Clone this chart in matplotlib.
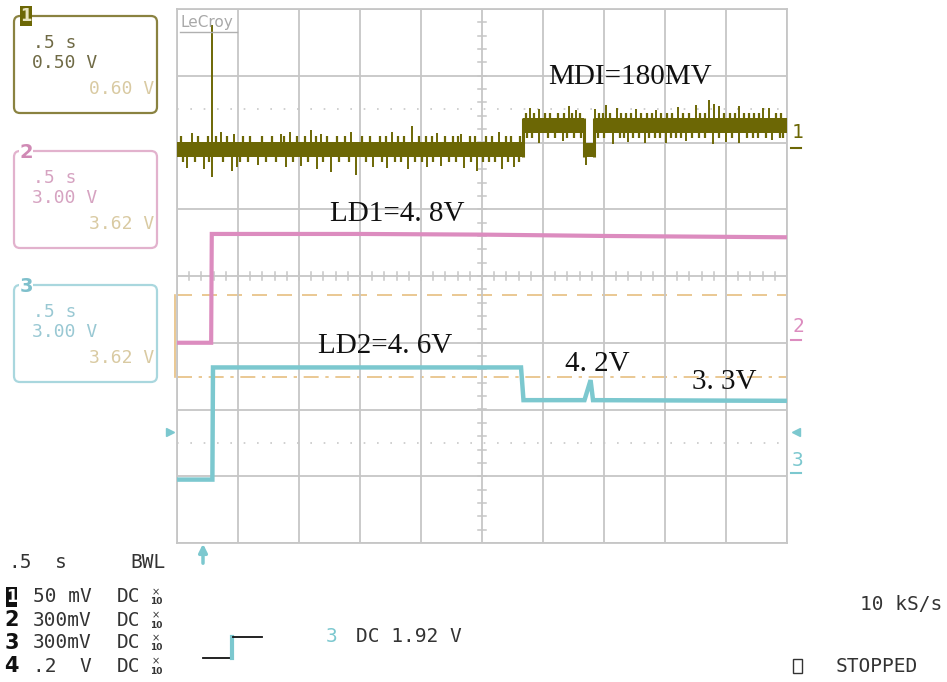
import numpy as np
import matplotlib
matplotlib.use("Agg")
import matplotlib.pyplot as plt
from matplotlib.patches import FancyBboxPatch, Rectangle

# ---------------- data (time in s, amplitude in screen divisions) -------------
x_range = (-2.5, 2.5)          # 0.5 s/div, 10 div
y_range = (-4, 4)              # 8 div

# Channel 1 (MDI, 50 mV/div): noisy band made of level segments
ch1_seg_start = [-2.5, 0.34, 0.84, 0.92]
ch1_seg_end = [0.34, 0.84, 0.92, 2.5]
ch1_level = [1.90, 2.25, 1.89, 2.25]
ch1_band = 0.11
# large noise spikes (time, tip)
ch1_spike_t = [-2.38, -2.14, -2.03, -1.65, -1.57, -1.40, -1.32, -1.07, -0.74, -0.57,
               -0.37, -0.17, 0.14,
               -2.42, -2.28, -2.05, -2.01, -1.84, -1.61, -1.48, -1.35, -1.24, -1.03,
               -0.89, -0.78, -0.61, -0.45, -0.34, -0.15, -0.04, 0.16, 0.26,
               0.39, 0.47, 0.71, 0.77, 0.93, 1.02, 1.11, 1.26, 1.43, 1.61, 1.75,
               1.86, 1.90, 1.94, 2.11, 2.30, 2.35,
               0.47, 0.66, 1.07, 1.20, 1.34, 1.51, 1.67, 1.89, 2.00, 2.11, 2.38,
               0.855, -2.215, -2.215]
ch1_spike_tip = [2.14, 2.16, 2.12, 2.13, 2.15, 2.18, 2.12, 2.16, 2.15, 2.24,
                 2.14, 2.13, 2.15,
                 1.62, 1.60, 1.58, 1.64, 1.66, 1.63, 1.65, 1.60, 1.56, 1.52,
                 1.63, 1.62, 1.61, 1.64, 1.65, 1.62, 1.58, 1.60, 1.63,
                 2.52, 2.50, 2.54, 2.49, 2.50, 2.56, 2.52, 2.50, 2.48, 2.53, 2.56,
                 2.63, 2.58, 2.55, 2.54, 2.51, 2.52,
                 2.00, 2.02, 1.98, 2.01, 1.99, 2.00, 2.02, 1.98, 2.01, 2.00, 2.03,
                 1.66, 3.76, 1.48]
# smaller noise spikes: times and typical excursion (div) above/below the level
ch1_minor_up_t = [-2.47, -2.33, -2.25, -2.18, -2.09, -1.96, -1.90, -1.80, -1.72, -1.62,
                  -1.52, -1.45, -1.36, -1.27, -1.19, -1.12, -0.98, -0.92, -0.84, -0.79,
                  -0.69, -0.64, -0.52, -0.46, -0.41, -0.30, -0.24, -0.20, -0.10, -0.06,
                  0.03, 0.08, 0.20, 0.24, 0.31,
                  0.36, 0.43, 0.52, 0.56, 0.62, 0.67, 0.74, 0.80, 0.96, 0.99, 1.05,
                  1.14, 1.18, 1.22, 1.30, 1.35, 1.39, 1.47, 1.52, 1.56, 1.65, 1.70,
                  1.79, 1.83, 1.98, 2.03, 2.07, 2.15, 2.19, 2.23, 2.27, 2.41, 2.45]
ch1_minor_dn_t = [-2.45, -2.35, -2.24, -2.12, -1.98, -1.92, -1.77, -1.69, -1.55, -1.43,
                  -1.30, -1.17, -1.09, -0.95, -0.82, -0.71, -0.66, -0.55, -0.49, -0.40,
                  -0.27, -0.21, -0.09, 0.01, 0.06, 0.11, 0.21, 0.30,
                  0.37, 0.41, 0.54, 0.60, 0.70, 0.75, 0.81, 0.95, 1.00, 1.13, 1.16,
                  1.24, 1.29, 1.37, 1.42, 1.46, 1.55, 1.59, 1.63, 1.72, 1.78, 1.83,
                  1.94, 2.05, 2.17, 2.22, 2.26, 2.33, 2.44, 2.47]
ch1_minor_excursion = 0.19

# Channel 2 (LD1, 300 mV/div)
ch2_t = [-2.5, -2.22, -2.215, -1.0, 0.0, 1.0, 2.5]
ch2_v = [-1.00, -1.00, 0.63, 0.63, 0.62, 0.60, 0.58]

# Channel 3 (LD2, 300 mV/div)
ch3_t = [-2.5, -2.21, -2.205, 0.32, 0.34, 0.84, 0.89, 0.91, 2.5]
ch3_v = [-3.05, -3.05, -1.37, -1.37, -1.86, -1.86, -1.56, -1.86, -1.87]

# threshold cursors (orange)
cursor_levels = [-0.28, -1.51]

annotations = ["MDI=180MV", "LD1=4. 8V", "LD2=4. 6V", "4. 2V", "3. 3V"]

box_titles = ["1", "2", "3"]
box_time = [".5 s", ".5 s", ".5 s"]
box_scale = ["0.50 V", "3.00 V", "3.00 V"]
box_value = ["0.60 V", "3.62 V", "3.62 V"]

bottom_ch = ["1", "2", "3", "4"]
bottom_vdiv = ["50 mV", "300mV", "300mV", ".2  V"]

# ---------------- colours ----------------
C1 = "#6c6705"
C2 = "#dc8cbf"
C3 = "#7cc8cf"
GRID = "#c6c6c6"
ORANGE = "#e6bf80"
TAN = "#d9caa2"
TXT = "#333333"

W, H = 947, 682
fig = plt.figure(figsize=(W / 100, H / 100), dpi=100)
fig.patch.set_facecolor("white")

# main scope axes (pixel box 177..787 x 9..543)
L, R, T, B = 177, 787, 9, 543
ax = fig.add_axes([L / W, (H - B) / H, (R - L) / W, (B - T) / H])
ax.set_xlim(*x_range)
ax.set_ylim(*y_range)
ax.set_xticks(np.linspace(x_range[0], x_range[1], 11))
ax.set_yticks(np.arange(y_range[0], y_range[1] + 1, 1))
ax.grid(True, color=GRID, lw=1.3)
ax.tick_params(length=0, labelbottom=False, labelleft=False)
for s in ax.spines.values():
    s.set_color(GRID)
    s.set_linewidth(1.3)

# centre-line minor ticks
for t in np.arange(-2.5, 2.5001, 0.1):
    ax.plot([t, t], [-0.06, 0.06], color=GRID, lw=1.1, zorder=1)
for v in np.arange(-4, 4.001, 0.2):
    ax.plot([-0.035, 0.035], [v, v], color=GRID, lw=1.1, zorder=1)

# dotted reference lines
for v in (2.5, -2.5):
    ax.axhline(v, color="#c8c8c8", lw=1.2, ls=(0, (1, 7)), zorder=1)

# orange cursors
ax.axhline(cursor_levels[0], color=ORANGE, lw=1.2, ls=(0, (9, 6)), zorder=1.5)
ax.axhline(cursor_levels[1], color=ORANGE, lw=1.2, ls=(0, (9, 4, 2, 4)), zorder=1.5)
ax.plot([-2.515, -2.515], cursor_levels, color=ORANGE, lw=1.2, clip_on=False)

# channel 1 band
lv_arr = np.array(ch1_level)
for s, e, lv in zip(ch1_seg_start, ch1_seg_end, ch1_level):
    ax.fill_between([s, e], lv - ch1_band, lv + ch1_band, color=C1, lw=0, zorder=3)
# connect the level changes
for k in range(1, len(ch1_level)):
    lo = min(ch1_level[k - 1], ch1_level[k]) - ch1_band
    hi = max(ch1_level[k - 1], ch1_level[k]) + ch1_band
    ax.vlines(ch1_seg_start[k], lo, hi, color=C1, lw=2.2, zorder=3)


def ch1_base(t):
    i = np.clip(np.searchsorted(ch1_seg_end, np.asarray(t)), 0, len(ch1_level) - 1)
    return lv_arr[i]


sp_t = np.array(ch1_spike_t)
ax.vlines(sp_t, ch1_base(sp_t), ch1_spike_tip, color=C1, lw=1.4, zorder=3)
mu = np.array(ch1_minor_up_t)
md = np.array(ch1_minor_dn_t)
ax.vlines(mu, ch1_base(mu), ch1_base(mu) + ch1_minor_excursion, color=C1, lw=1.6, zorder=3)
ax.vlines(md, ch1_base(md), ch1_base(md) - ch1_minor_excursion, color=C1, lw=1.6, zorder=3)

# channel 2 / 3
ax.plot(ch2_t, ch2_v, color=C2, lw=3.0, zorder=3, solid_joinstyle="miter")
ax.plot(ch3_t, ch3_v, color=C3, lw=3.2, zorder=3, solid_joinstyle="miter")

# ---------------- overlay in pixel coordinates ----------------
ov = fig.add_axes([0, 0, 1, 1], zorder=5)
ov.set_xlim(0, W)
ov.set_ylim(H, 0)
ov.axis("off")
ov.patch.set_alpha(0)

serif = dict(family="Liberation Serif", color="#111111", fontsize=21, va="center", ha="left")
ov.text(548, 77, annotations[0], **serif)
ov.text(330, 214, annotations[1], **serif)
ov.text(318, 346, annotations[2], **serif)
ov.text(565, 364, annotations[3], **serif)
ov.text(692, 382, annotations[4], **serif)

# LeCroy logo
ov.text(180, 23, "LeCroy", family="DejaVu Sans", fontsize=11, color="#a8a8a8", va="center", ha="left")
ov.plot([180, 237], [32, 32], color="#b0b0b0", lw=1)

mono = "DejaVu Sans Mono"
box_top = [16, 151, 285]
box_edge = ["#8a8240", "#e2b2cd", "#a9d7de"]
box_text_col = ["#6f6a45", "#d6a3c1", "#99c8d3"]
title_col = [C1, "#d08ab5", "#7fc0cc"]
for i in range(3):
    y0 = box_top[i]
    ov.add_patch(FancyBboxPatch((14, y0), 143, 97, boxstyle="round,pad=0,rounding_size=6",
                                fc="none", ec=box_edge[i], lw=1.6))
    ov.text(33, y0 + 27, box_time[i], family=mono, fontsize=13, color=box_text_col[i], va="center")
    ov.text(32, y0 + 47, box_scale[i], family=mono, fontsize=13, color=box_text_col[i], va="center")
    ov.text(154, y0 + 73, box_value[i], family=mono, fontsize=13, color=TAN, va="center", ha="right")
    if i == 0:
        ov.add_patch(Rectangle((20, 6), 12, 20, fc=C1, ec="none"))
        ov.text(26, 16, box_titles[i], family="DejaVu Sans", fontsize=12, fontweight="bold",
                color="#e8e4c0", va="center", ha="center")
    else:
        ov.add_patch(Rectangle((19, y0 - 4), 14, 10, fc="white", ec="none"))
        ov.text(26, y0 + 2, box_titles[i], family="DejaVu Sans", fontsize=14, fontweight="bold",
                color=title_col[i], va="center", ha="center")

# right-side channel markers
ov.text(792, 133, "1", family=mono, fontsize=14, color=C1, va="center")
ov.plot([791, 801], [148, 148], color=C1, lw=1.5)
ov.text(792, 326, "2", family=mono, fontsize=14, color=C2, va="center")
ov.plot([791, 801], [340, 340], color=C2, lw=1.5)
ov.text(792, 460, "3", family=mono, fontsize=14, color=C3, va="center")
ov.plot([791, 801], [473, 473], color=C3, lw=1.5)
ov.plot(796, 432, marker="<", ms=6, color=C3)
ov.plot(170, 432, marker=">", ms=6, color=C3)

# trigger position arrow
ov.annotate("", xy=(203, 541), xytext=(203, 566),
            arrowprops=dict(arrowstyle="-|>", color=C3, lw=2.5, mutation_scale=12))

# bottom status text
ov.text(8, 562, ".5", family=mono, fontsize=14, color=TXT, va="center")
ov.text(55, 562, "s", family=mono, fontsize=14, color=TXT, va="center")
ov.text(130, 562, "BWL", family=mono, fontsize=14, color=TXT, va="center")
row_y = [597, 620, 643, 666]
for i, y in enumerate(row_y):
    if i == 0:
        ov.add_patch(Rectangle((6, y - 10), 11, 20, fc="#111111", ec="none"))
        ov.text(11.5, y, bottom_ch[i], family="DejaVu Sans", fontsize=12, fontweight="bold",
                color="white", va="center", ha="center")
    else:
        ov.text(11.5, y, bottom_ch[i], family="DejaVu Sans", fontsize=15, fontweight="bold",
                color="#111111", va="center", ha="center")
    ov.text(33, y, bottom_vdiv[i], family=mono, fontsize=14, color=TXT, va="center")
    ov.text(117, y, "DC", family=mono, fontsize=14, color=TXT, va="center")
    ov.text(156, y - 5, "×", family="DejaVu Sans", fontsize=7, color=TXT, va="center", ha="center")
    ov.text(156, y + 5, "10", family="DejaVu Sans", fontsize=6.5, fontweight="bold",
            color=TXT, va="center", ha="center")

# trigger symbol
ov.plot([203, 231], [658, 658], color="#111111", lw=1.3)
ov.plot([232, 232], [658, 637], color=C3, lw=3)
ov.plot([233, 262], [637, 637], color="#111111", lw=1.3)

ov.text(326, 636, "3", family=mono, fontsize=14, color=C3, va="center")
ov.text(356, 636, "DC 1.92 V", family=mono, fontsize=14, color=TXT, va="center")
ov.text(860, 605, "10 kS/s", family=mono, fontsize=14, color=TXT, va="center")
ov.add_patch(Rectangle((793, 659), 9, 14, fc="none", ec=TXT, lw=1))
ov.text(836, 666, "STOPPED", family=mono, fontsize=14, color=TXT, va="center")

fig.savefig("out.png", dpi=100)
